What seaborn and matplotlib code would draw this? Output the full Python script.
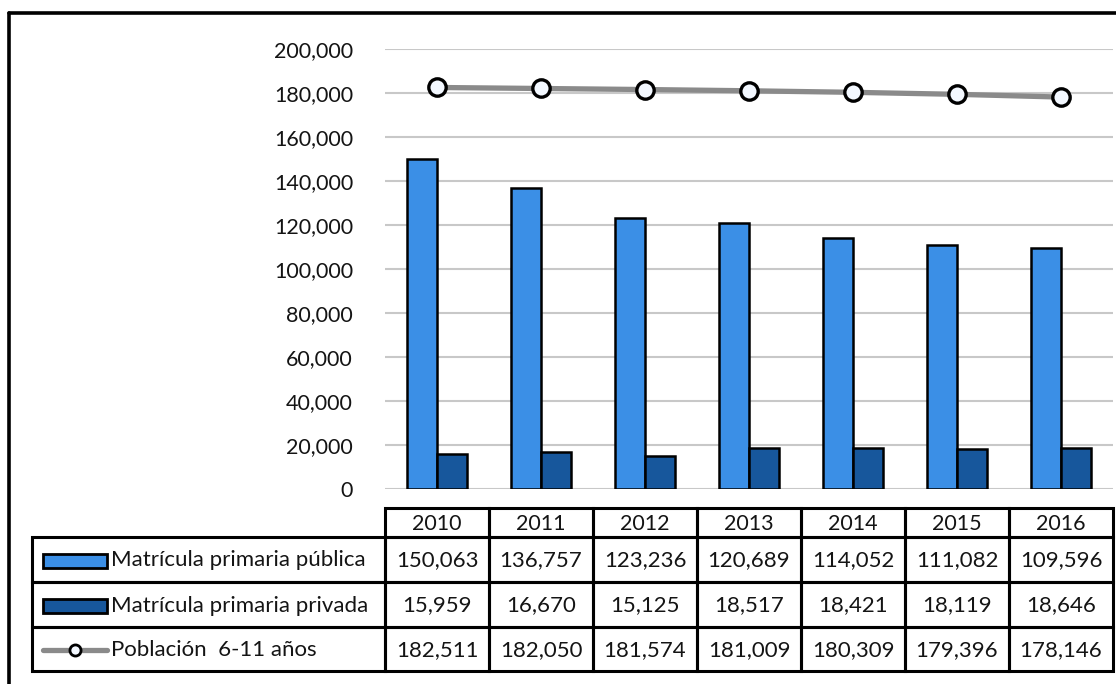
import numpy as np
import pandas as pd
import matplotlib
matplotlib.use("Agg")
import matplotlib.pyplot as plt
import seaborn as sns
from matplotlib.patches import Rectangle
from matplotlib.lines import Line2D
from matplotlib.ticker import FuncFormatter

years = ["2010", "2011", "2012", "2013", "2014", "2015", "2016"]
publica = [150063, 136757, 123236, 120689, 114052, 111082, 109596]
privada = [15959, 16670, 15125, 18517, 18421, 18119, 18646]
poblacion = [182511, 182050, 181574, 181009, 180309, 179396, 178146]
series_names = ["Matrícula primaria pública", "Matrícula primaria privada", "Población  6-11 años"]
y_ticks = list(range(0, 200001, 20000))

# Colours
C_PUB = "#3b8fe6"
C_PRIV = "#17579c"
C_LINE = "#8a8a8a"

sns.set_theme(style="white")
plt.rcParams["font.family"] = ["Lato", "DejaVu Sans"]

W, H = 1116, 684
fig = plt.figure(figsize=(W / 100, H / 100), dpi=100)

# main plotting area in pixel coordinates
left, right, top, bottom = 385, 1113, 49, 489
ax = fig.add_axes([left / W, 1 - bottom / H, (right - left) / W, (bottom - top) / H])

bars = pd.DataFrame({
    "year": years * 2,
    "value": publica + privada,
    "serie": [series_names[0]] * len(years) + [series_names[1]] * len(years),
})
sns.barplot(data=bars, x="year", y="value", hue="serie", order=years,
            palette=[C_PUB, C_PRIV], saturation=1, width=0.58, gap=0,
            edgecolor="black", linewidth=1.8, legend=False, ax=ax, zorder=3)

pop = pd.DataFrame({"year": years, "value": poblacion})
sns.pointplot(data=pop, x="year", y="value", order=years, color=C_LINE,
              errorbar=None, markers="o", linewidth=3.8, markersize=12.5,
              markeredgewidth=2.4, ax=ax, zorder=5)
for ln in ax.lines:
    ln.set_markerfacecolor("#f3f8ff")
    ln.set_markeredgecolor("black")
    ln.set_zorder(5)

ax.set_ylim(0, 200000)
ax.set_xlim(-0.5, len(years) - 0.5)
ax.set_yticks(y_ticks)
ax.yaxis.set_major_formatter(FuncFormatter(lambda v, p: f"{int(v):,}"))
ax.tick_params(axis="y", length=0, pad=23, labelsize=15.5, labelcolor="#141414")
ax.tick_params(axis="x", length=0, labelbottom=False)
ax.set_xlabel("")
ax.set_ylabel("")
ax.yaxis.grid(True, color="#c8c8c8", linewidth=1.5)
ax.set_axisbelow(True)
for s in ax.spines.values():
    s.set_visible(False)

# data table underneath, drawn in pixel space
tax = fig.add_axes([0, 0, 1, 1])
tax.set_xlim(0, W)
tax.set_ylim(H, 0)
tax.axis("off")

col_w = (right - left) / len(years)
hdr_top, hdr_bot = 508, 537
row_edges = [537, 582, 627, 671]
lab_left = 32
lw = 2.2

# header cells
for i, yr in enumerate(years):
    x0 = left + i * col_w
    tax.add_patch(Rectangle((x0, hdr_top), col_w, hdr_bot - hdr_top, fill=False,
                            edgecolor="black", linewidth=lw))
    tax.text(x0 + col_w / 2, (hdr_top + hdr_bot) / 2 + 1, yr, ha="center", va="center",
             fontsize=15.5, color="#141414")

rows = [publica, privada, poblacion]
for r, vals in enumerate(rows):
    y0, y1 = row_edges[r], row_edges[r + 1]
    yc = (y0 + y1) / 2 + 1
    tax.add_patch(Rectangle((lab_left, y0), left - lab_left, y1 - y0, fill=False,
                            edgecolor="black", linewidth=lw))
    for i, v in enumerate(vals):
        x0 = left + i * col_w
        tax.add_patch(Rectangle((x0, y0), col_w, y1 - y0, fill=False,
                                edgecolor="black", linewidth=lw))
        tax.text(x0 + col_w / 2, yc, f"{v:,}", ha="center", va="center",
                 fontsize=16, color="#141414")
    # legend key
    if r < 2:
        tax.add_patch(Rectangle((43, yc - 7), 64, 14, facecolor=[C_PUB, C_PRIV][r],
                                edgecolor="black", linewidth=2.0))
    else:
        tax.add_line(Line2D([43, 107], [yc, yc], color=C_LINE, linewidth=3.8))
        tax.add_line(Line2D([75], [yc], marker="o", markersize=8, markerfacecolor="#f3f8ff",
                            markeredgecolor="black", markeredgewidth=2.0, linestyle="none"))
    tax.text(111, yc, series_names[r], ha="left", va="center", fontsize=16, color="#141414")

# outer frame (left and top edges visible in the crop)
tax.add_line(Line2D([9, 9], [13, H], color="black", linewidth=2.6))
tax.add_line(Line2D([9, W], [13, 13], color="black", linewidth=2.6))

fig.savefig("out.png", dpi=100)
